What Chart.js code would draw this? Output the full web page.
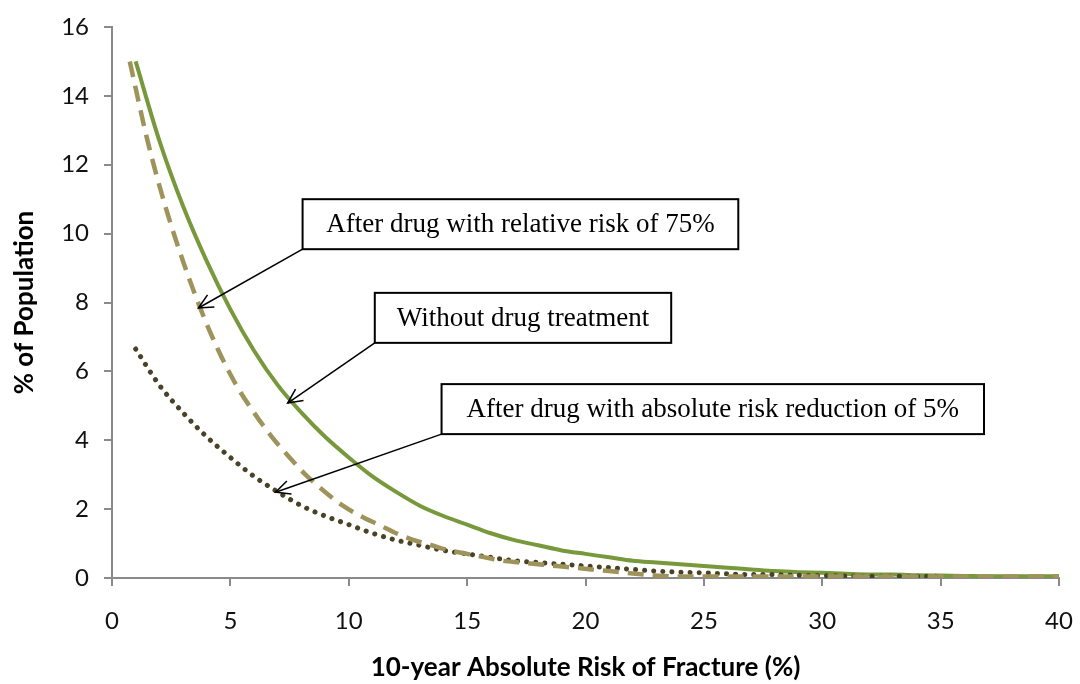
<!DOCTYPE html>
<html>
<head>
<meta charset="utf-8">
<script src="https://cdn.jsdelivr.net/npm/chart.js@4"></script>
<style>
  html, body { margin: 0; padding: 0; background: #fff; }
  #wrap { width: 1080px; height: 684px; }
</style>
</head>
<body>
<div id="wrap"><canvas id="myChart" width="1080" height="684"></canvas></div>
<script>
// values
const noDrugX = [1, 2, 3, 4, 5, 6, 7, 8, 9, 10, 11, 12, 13, 14, 15, 16, 17, 18, 19, 20,
                 21, 22, 23, 24, 25, 26, 27, 28, 29, 30, 31, 32, 33, 34, 35, 36, 37, 38, 39, 40];
const noDrugY = [15.0, 12.7, 10.8, 9.2, 7.8, 6.6, 5.6, 4.8, 4.1, 3.5, 2.95, 2.5, 2.1, 1.8, 1.55, 1.3, 1.1, 0.95, 0.8, 0.7,
                 0.6, 0.5, 0.45, 0.4, 0.35, 0.3, 0.25, 0.2, 0.17, 0.15, 0.12, 0.1, 0.1, 0.08, 0.07, 0.06, 0.05, 0.05, 0.05, 0.05];

const relRiskX = [0.75, 1.5, 2.25, 3, 3.75, 4.5, 5.25, 6, 6.75, 7.5, 8.25, 9, 9.75, 10.5, 11.25, 12, 12.75, 13.5, 14.25, 15,
                  15.75, 16.5, 17.25, 18, 18.75, 19.5, 20.25, 21, 21.75, 22.5, 23.25, 24, 25, 26, 28, 30, 32, 34, 36, 38, 40];
const relRiskY = [15.0, 12.7, 10.8, 9.2, 7.8, 6.6, 5.6, 4.8, 4.1, 3.5, 2.95, 2.5, 2.1, 1.8, 1.55, 1.3, 1.1, 0.95, 0.8, 0.7,
                  0.6, 0.5, 0.45, 0.4, 0.35, 0.3, 0.25, 0.2, 0.15, 0.1, 0.06, 0.04, 0.04, 0.04, 0.04, 0.04, 0.04, 0.04, 0.04, 0.04, 0.04];

const absRiskX = [1, 2, 3, 4, 5, 6, 7, 8, 9, 10, 11, 12, 13, 14, 15, 16, 17, 18, 19, 20,
                  21, 22, 23, 24, 25, 26, 27, 28, 29, 30, 31, 32, 33, 34, 35];
const absRiskY = [6.65, 5.6, 4.8, 4.1, 3.5, 2.95, 2.5, 2.1, 1.8, 1.55, 1.3, 1.1, 0.95, 0.8, 0.7, 0.6, 0.5, 0.45, 0.4, 0.35,
                  0.3, 0.25, 0.2, 0.17, 0.15, 0.12, 0.1, 0.1, 0.08, 0.07, 0.06, 0.05, 0.05, 0.05, 0.05];

const xTicks = [0, 5, 10, 15, 20, 25, 30, 35, 40];
const yTicks = [0, 2, 4, 6, 8, 10, 12, 14, 16];

// callout boxes: top-left corner and arrow tip in data units
const callouts = [
  { text: 'After drug with relative risk of 75%', x: 8.05, y: 11.0, tipX: 3.65, tipY: 7.84 },
  { text: 'Without drug treatment', x: 11.1, y: 8.28, tipX: 7.42, tipY: 5.08 },
  { text: 'After drug with absolute risk reduction of 5%', x: 13.92, y: 5.63, tipX: 6.91, tipY: 2.49 }
];

function pts(xs, ys) {
  return xs.map((x, i) => ({ x: x, y: ys[i] }));
}

const calloutPlugin = {
  id: 'callouts',
  afterDatasetsDraw(chart) {
    const ctx = chart.ctx;
    const sx = chart.scales.x, sy = chart.scales.y;
    ctx.save();
    ctx.font = '27px "Liberation Serif", "Times New Roman", serif';
    ctx.strokeStyle = '#000';
    ctx.fillStyle = '#000';
    callouts.forEach(c => {
      const left = sx.getPixelForValue(c.x);
      const top = sy.getPixelForValue(c.y);
      const tw = ctx.measureText(c.text).width;
      const pad = 19 + tw * 0.012;
      const w = tw + 2 * pad;
      const h = 50;
      const tx = sx.getPixelForValue(c.tipX);
      const ty = sy.getPixelForValue(c.tipY);
      // leader line
      ctx.lineWidth = 1.5;
      ctx.beginPath();
      ctx.moveTo(left, top + h);
      ctx.lineTo(tx, ty);
      ctx.stroke();
      // open arrow head
      const ang = Math.atan2(top + h - ty, left - tx);
      const len = 16, spread = 0.45;
      ctx.beginPath();
      ctx.moveTo(tx + len * Math.cos(ang - spread), ty + len * Math.sin(ang - spread));
      ctx.lineTo(tx, ty);
      ctx.lineTo(tx + len * Math.cos(ang + spread), ty + len * Math.sin(ang + spread));
      ctx.stroke();
      // box
      ctx.fillStyle = '#fff';
      ctx.fillRect(left, top, w, h);
      ctx.lineWidth = 2;
      ctx.strokeRect(left, top, w, h);
      ctx.fillStyle = '#000';
      ctx.textBaseline = 'middle';
      ctx.fillText(c.text, left + pad, top + h / 2 + 1);
    });
    ctx.restore();
  }
};

const fontFamily = 'Lato, "Liberation Sans", sans-serif';
const axisGray = '#8a8a8a';

new Chart(document.getElementById('myChart').getContext('2d'), {
  type: 'line',
  data: {
    // first dataset is painted on top
    datasets: [{
      label: 'After drug with relative risk of 75%',
      data: pts(relRiskX, relRiskY),
      borderColor: '#9e935a',
      borderWidth: 4.5,
      borderDash: [16, 9],
      pointRadius: 0,
      cubicInterpolationMode: 'monotone',
      fill: false
    }, {
      label: 'After drug with absolute risk reduction of 5%',
      data: pts(absRiskX, absRiskY),
      borderColor: '#4a4226',
      borderWidth: 5,
      borderDash: [0.1, 9],
      borderCapStyle: 'round',
      pointRadius: 0,
      cubicInterpolationMode: 'monotone',
      fill: false
    }, {
      label: 'Without drug treatment',
      data: pts(noDrugX, noDrugY),
      borderColor: '#77993b',
      borderWidth: 4,
      pointRadius: 0,
      cubicInterpolationMode: 'monotone',
      fill: false
    }]
  },
  options: {
    responsive: false,
    animation: false,
    layout: { padding: { top: 27, right: 21, left: 0, bottom: 0 } },
    plugins: {
      legend: { display: false },
      tooltip: { enabled: false }
    },
    scales: {
      x: {
        type: 'linear',
        min: 0,
        max: 40,
        afterBuildTicks: s => { s.ticks = xTicks.map(v => ({ value: v })); },
        afterFit: s => { s.height = 106; s.paddingLeft = 0; s.paddingRight = 0; },
        grid: { drawOnChartArea: false, drawTicks: true, tickLength: 8, color: axisGray, lineWidth: 2 },
        border: { color: axisGray, width: 2 },
        ticks: { color: '#111', font: { family: fontFamily, size: 24 }, padding: 21, maxRotation: 0 },
        title: {
          display: true,
          text: '10-year Absolute Risk of Fracture (%)',
          color: '#000',
          font: { family: fontFamily, size: 26, weight: 'bold' },
          padding: { top: 0, bottom: 1 }
        }
      },
      y: {
        min: 0,
        max: 16,
        afterBuildTicks: s => { s.ticks = yTicks.map(v => ({ value: v })); },
        afterFit: s => { s.width = 112; s.paddingTop = 0; s.paddingBottom = 0; },
        grid: { drawOnChartArea: false, drawTicks: true, tickLength: 8, color: axisGray, lineWidth: 2 },
        border: { color: axisGray, width: 2 },
        ticks: { color: '#111', font: { family: fontFamily, size: 24 }, padding: 15 },
        title: {
          display: true,
          text: '% of Population',
          color: '#000',
          font: { family: fontFamily, size: 26, weight: 'bold' },
          padding: { top: 9, bottom: 0 }
        }
      }
    }
  },
  plugins: [calloutPlugin]
});
</script>
</body>
</html>
